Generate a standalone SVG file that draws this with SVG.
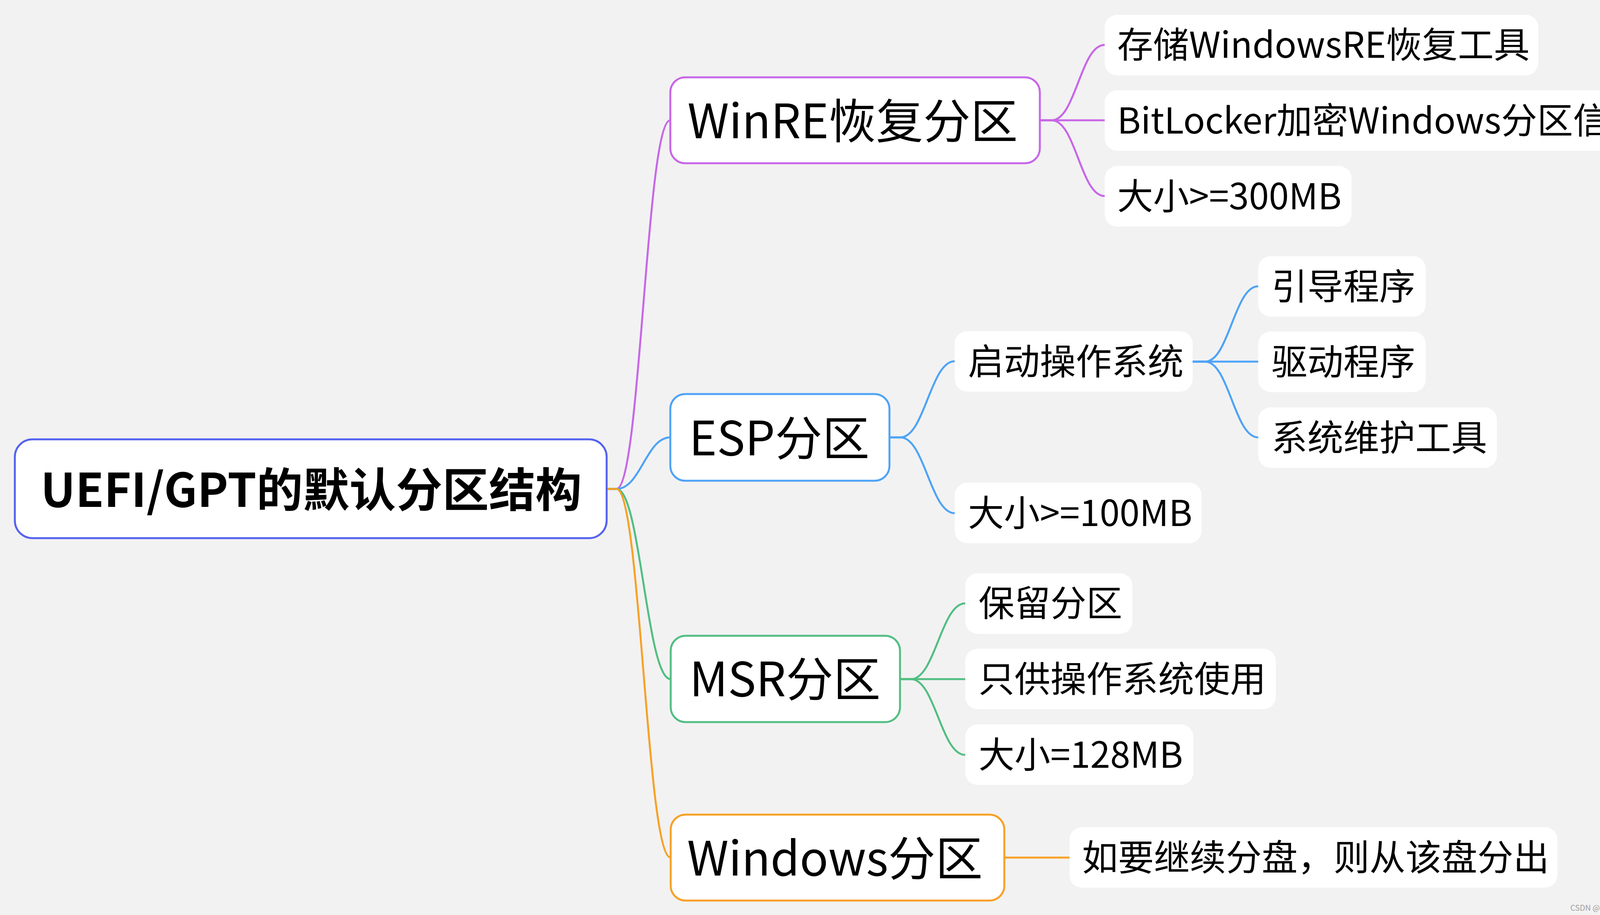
<svg xmlns="http://www.w3.org/2000/svg" width="4267" height="2343" viewBox="0 0 4267 2343">
<style>
.bg{fill:#f2f2f2}
.main{fill:#ffffff;stroke-width:5}
.leaf{fill:#ffffff}
.t{font-family:"Noto Sans CJK SC","Noto Sans",sans-serif;fill:#000000}
.tm{font-size:121px}
.tl{font-size:92px}
.tr{font-size:119px;font-weight:bold}
.c{fill:none;stroke-width:5;stroke-linecap:round}
.cp{stroke:#c767e8}
.cb{stroke:#4ea3f7}
.cg{stroke:#52be82}
.co{stroke:#f7a126}
.wm{font-family:"Noto Sans CJK SC","Noto Sans",sans-serif;font-size:20px;fill:#9e9e9e}
</style>
<rect class="bg" x="0" y="0" width="4267" height="2343"/>
<g id="connectors">
<path class="c cp" d="M1553,1252 H1578 C1640,1252 1654,308 1716,308"/>
<path class="c cb" d="M1553,1252 H1578 C1640,1252 1654,1120 1716,1120"/>
<path class="c cg" d="M1553,1252 H1578 C1640,1252 1655,1739 1717,1739"/>
<path class="c co" d="M1553,1252 H1578 C1640,1252 1655,2196 1717,2196"/>
<path class="c cp" d="M2662,308 H2692 C2754,308 2766,115 2828,115"/>
<path class="c cp" d="M2662,308 H2828"/>
<path class="c cp" d="M2662,308 H2692 C2754,308 2766,502 2828,502"/>
<path class="c cb" d="M2277,1120 H2305 C2367,1120 2382,925 2444,925"/>
<path class="c cb" d="M2277,1120 H2305 C2367,1120 2382,1314 2444,1314"/>
<path class="c cb" d="M3053,926 H3085 C3146,926 3160,733 3221,733"/>
<path class="c cb" d="M3053,926 H3221"/>
<path class="c cb" d="M3053,926 H3085 C3146,926 3160,1120 3221,1120"/>
<path class="c cg" d="M2304,1739 H2332 C2394,1739 2409,1545 2471,1545"/>
<path class="c cg" d="M2304,1739 H2471"/>
<path class="c cg" d="M2304,1739 H2332 C2394,1739 2409,1933 2471,1933"/>
<path class="c co" d="M2571,2196 H2738"/>
</g>
<g id="root">
<rect class="main" x="38" y="1125" width="1515" height="253" rx="45" stroke="#5562f0"/>
<text class="t tr" x="104" y="1298">UEFI/GPT的默认分区结构</text>
</g>
<g id="winre">
<rect class="main" x="1716" y="198" width="946" height="220" rx="38" stroke="#c767e8"/>
<text class="t tm" x="1760" y="354">WinRE恢复分区</text>
</g>
<g id="winre-1">
<rect class="leaf" x="2828" y="38" width="1110" height="155" rx="32"/>
<text class="t tl" x="2860" y="148">存储WindowsRE恢复工具</text>
</g>
<g id="winre-2">
<rect class="leaf" x="2828" y="231" width="1402" height="155" rx="32"/>
<text class="t tl" x="2860" y="342">BitLocker加密Windows分区信息</text>
</g>
<g id="winre-3">
<rect class="leaf" x="2828" y="425" width="632" height="155" rx="32"/>
<text class="t tl" x="2860" y="536">大小&gt;=300MB</text>
</g>
<g id="esp">
<rect class="main" x="1716" y="1009" width="561" height="222" rx="38" stroke="#4ea3f7"/>
<text class="t tm" x="1764" y="1166">ESP分区</text>
</g>
<g id="esp-1">
<rect class="leaf" x="2444" y="848" width="609" height="155" rx="32"/>
<text class="t tl" x="2478" y="959">启动操作系统</text>
</g>
<g id="esp-1-1">
<rect class="leaf" x="3221" y="656" width="429" height="155" rx="32"/>
<text class="t tl" x="3255" y="767">引导程序</text>
</g>
<g id="esp-1-2">
<rect class="leaf" x="3221" y="849" width="429" height="155" rx="32"/>
<text class="t tl" x="3255" y="960">驱动程序</text>
</g>
<g id="esp-1-3">
<rect class="leaf" x="3221" y="1043" width="611" height="155" rx="32"/>
<text class="t tl" x="3255" y="1154">系统维护工具</text>
</g>
<g id="esp-2">
<rect class="leaf" x="2444" y="1236" width="632" height="155" rx="32"/>
<text class="t tl" x="2478" y="1347">大小&gt;=100MB</text>
</g>
<g id="msr">
<rect class="main" x="1717" y="1628" width="587" height="221" rx="38" stroke="#52be82"/>
<text class="t tm" x="1765" y="1783">MSR分区</text>
</g>
<g id="msr-1">
<rect class="leaf" x="2471" y="1468" width="428" height="155" rx="32"/>
<text class="t tl" x="2505" y="1578">保留分区</text>
</g>
<g id="msr-2">
<rect class="leaf" x="2471" y="1661" width="795" height="155" rx="32"/>
<text class="t tl" x="2505" y="1772">只供操作系统使用</text>
</g>
<g id="msr-3">
<rect class="leaf" x="2471" y="1855" width="584" height="155" rx="32"/>
<text class="t tl" x="2505" y="1966">大小=128MB</text>
</g>
<g id="windows">
<rect class="main" x="1717" y="2086" width="854" height="220" rx="38" stroke="#f7a126"/>
<text class="t tm" x="1759" y="2242">Windows分区</text>
</g>
<g id="windows-1">
<rect class="leaf" x="2738" y="2118" width="1249" height="155" rx="32"/>
<text class="t tl" x="2770" y="2229">如要继续分盘，则从该盘分出</text>
</g>
<text class="wm" x="4020" y="2332">CSDN @刘总，请您多喝水</text>
</svg>
